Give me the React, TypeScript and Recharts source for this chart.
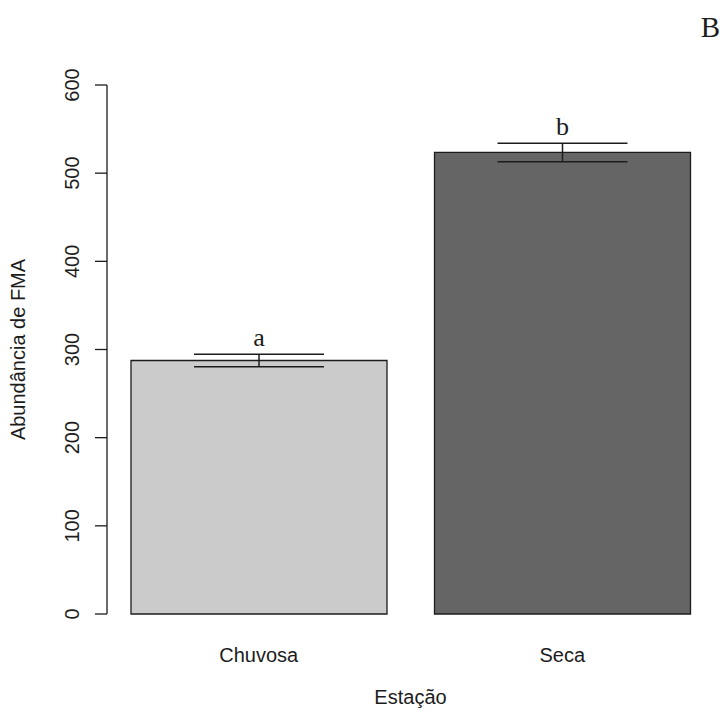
import { Bar, BarChart, Cell, ErrorBar, Label, LabelList, XAxis, YAxis } from "recharts";

const seasons = ["Chuvosa", "Seca"];
const abundance = [287.5, 523.5];
const stdErr = [7, 10.5];
const letters = ["a", "b"];
const barColors = ["#cbcbcb", "#656565"];
const yTicks = [0, 100, 200, 300, 400, 500, 600];

const data = seasons.map((name, i) => ({
  name,
  value: abundance[i],
  err: stdErr[i],
  letter: letters[i],
}));

const INK = "#1c1c1c";
const SANS = "'Liberation Sans', Arial, sans-serif";
const SERIF = "'Liberation Serif', 'Times New Roman', serif";

function YTick(props: any) {
  const { x, y, payload } = props;
  const bx = x - 14;
  return (
    <text
      x={bx}
      y={y}
      transform={`rotate(-90, ${bx}, ${y})`}
      textAnchor="middle"
      fontSize={20}
      fontFamily={SANS}
      fill={INK}
    >
      {payload.value}
    </text>
  );
}

function XTick(props: any) {
  const { x, y, payload } = props;
  return (
    <text
      x={x}
      y={y + 48}
      textAnchor="middle"
      fontSize={20}
      fontFamily={SANS}
      fill={INK}
    >
      {payload.value}
    </text>
  );
}

function LetterMark(props: any) {
  const { x, y, width, height, value, index } = props;
  const i = typeof index === "number" ? index : letters.indexOf(value);
  const errPx = (height * stdErr[i]) / abundance[i];
  return (
    <text
      x={x + width / 2}
      y={y - errPx - 8}
      textAnchor="middle"
      fontSize={26}
      fontFamily={SERIF}
      fill={INK}
    >
      {value}
    </text>
  );
}

function YLabel(props: any) {
  const { viewBox } = props;
  const cy = viewBox.y + viewBox.height / 2;
  const bx = 25;
  return (
    <text
      x={bx}
      y={cy}
      transform={`rotate(-90, ${bx}, ${cy})`}
      textAnchor="middle"
      fontSize={20}
      fontFamily={SANS}
      fill={INK}
    >
      Abundância de FMA
    </text>
  );
}

export default function App() {
  return (
    <div
      style={{
        position: "absolute",
        left: 0,
        top: 0,
        width: 723,
        height: 717,
        background: "#ffffff",
      }}
    >
      <BarChart
        width={723}
        height={717}
        data={data}
        margin={{ top: 85, right: 9, bottom: 0, left: 0 }}
        barSize={256}
      >
        <XAxis
          dataKey="name"
          axisLine={false}
          tickLine={false}
          tickSize={0}
          tickMargin={0}
          height={103}
          tick={<XTick />}
          interval={0}
        >
          <Label
            value="Estação"
            position="insideBottom"
            offset={13}
            fontSize={20}
            fontFamily={SANS}
            fill={INK}
          />
        </XAxis>
        <YAxis
          width={107}
          domain={[0, 600]}
          ticks={yTicks}
          interval={0}
          tickSize={12}
          tickMargin={2}
          axisLine={{ stroke: INK, strokeWidth: 1.3 }}
          tickLine={{ stroke: INK, strokeWidth: 1.3 }}
          tick={<YTick />}
        >
          <Label content={<YLabel />} />
        </YAxis>
        <Bar
          dataKey="value"
          stroke={INK}
          strokeWidth={1.3}
          isAnimationActive={false}
        >
          {data.map((d, i) => (
            <Cell key={d.name} fill={barColors[i]} />
          ))}
          <ErrorBar
            dataKey="err"
            width={65}
            stroke={INK}
            strokeWidth={1.5}
            isAnimationActive={false}
          />
          <LabelList dataKey="letter" content={<LetterMark />} />
        </Bar>
      </BarChart>
      <div
        style={{
          position: "absolute",
          right: 3,
          top: 13,
          fontFamily: SERIF,
          fontSize: 29,
          color: INK,
          lineHeight: 1,
        }}
      >
        B
      </div>
    </div>
  );
}
